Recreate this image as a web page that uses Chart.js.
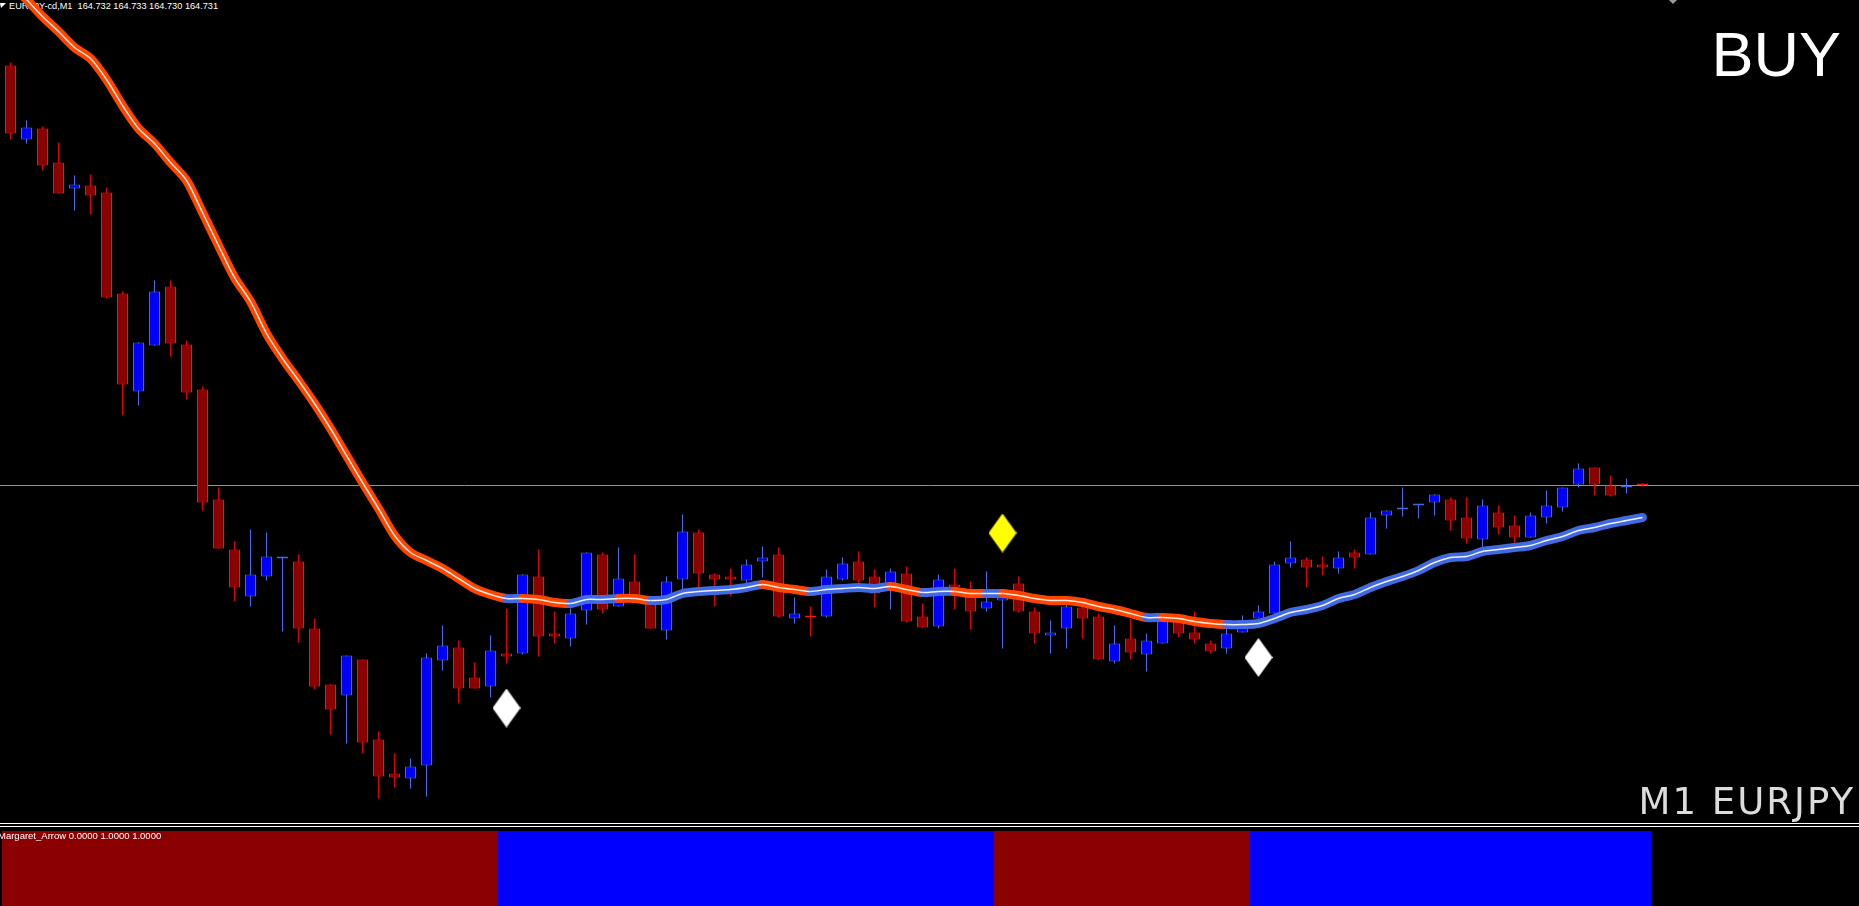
<!DOCTYPE html>
<html>
<head>
<meta charset="utf-8">
<script src="https://cdn.jsdelivr.net/npm/chart.js@4.4.0/dist/chart.umd.min.js"></script>
<style>
  html, body { margin: 0; padding: 0; background: #000; overflow: hidden; }
  #wrap { position: relative; width: 1859px; height: 906px; background: #000; }
  #main { position: absolute; left: 0; top: 0; }
  #sub { position: absolute; left: 0; top: 831px; }
  .sep { position: absolute; left: 0; width: 1859px; height: 1px; background: #fff; }
  .lbl { position: absolute; white-space: nowrap; color: #fff; }
</style>
</head>
<body>
<div id="wrap">
  <svg style="position:absolute;left:0;top:3px" width="7" height="6"><polygon points="0,0 6,0 1,5" fill="#fff"/></svg>
  <div class="lbl" style="left:9px;top:0;font:9.2px/12px 'Liberation Sans',Arial,sans-serif;">EURJPY-cd,M1&nbsp;&nbsp;164.732 164.733 164.730 164.731</div>
  <svg style="position:absolute;left:1669px;top:0" width="9" height="5"><polygon points="0,0 8,0 4,4" fill="#9a9a9a"/></svg>
  <canvas id="main" width="1859" height="823"></canvas>
  <div class="lbl" style="right:18px;top:22.5px;font:63px/63px 'Liberation Sans',Arial,sans-serif;">BUY</div>
  <div class="lbl" style="right:4px;top:783px;font:37px/37px 'DejaVu Sans',sans-serif;letter-spacing:2px;color:#dcdcdc;">M1 EURJPY</div>
  <div class="sep" style="top:823px"></div>
  <div class="sep" style="top:826px"></div>
  <canvas id="sub" width="1859" height="75"></canvas>
  <div class="lbl" style="left:-2px;top:830px;font:9.5px/12px 'Liberation Sans',Arial,sans-serif;">Margaret_Arrow 0.0000 1.0000 1.0000</div>
</div>
<script>
// EURJPY M1 candles, oldest first
const opens = [
  165.151, 165.077, 165.088, 165.054, 165.028, 165.031, 165.024, 164.923, 164.825, 164.871,
  164.930, 164.872, 164.827, 164.717, 164.667, 164.620, 164.640, 164.658, 164.655, 164.588,
  164.532, 164.521, 164.557, 164.477, 164.443, 164.438, 164.451, 164.556, 164.569, 164.539,
  164.530, 164.563, 164.563, 164.640, 164.583, 164.578, 164.606, 164.662, 164.610, 164.635,
  164.617, 164.586, 164.637, 164.684, 164.642, 164.640, 164.636, 164.655, 164.662, 164.598,
  164.601, 164.600, 164.637, 164.655, 164.640, 164.633, 164.643, 164.600, 164.590, 164.632,
  164.623, 164.608, 164.616, 164.633, 164.605, 164.581, 164.588, 164.609, 164.600, 164.555,
  164.578, 164.562, 164.573, 164.599, 164.584, 164.573, 164.568, 164.584, 164.598, 164.603,
  164.653, 164.657, 164.652, 164.648, 164.664, 164.662, 164.701, 164.707, 164.711, 164.714,
  164.717, 164.699, 164.677, 164.704, 164.691, 164.679, 164.699, 164.709, 164.732, 164.749,
  164.731, 164.729, 164.732
];
const highs = [
  165.154, 165.096, 165.090, 165.074, 165.041, 165.042, 165.029, 164.925, 164.874, 164.936,
  164.936, 164.876, 164.830, 164.729, 164.675, 164.687, 164.684, 164.660, 164.662, 164.598,
  164.532, 164.561, 164.557, 164.485, 164.463, 164.458, 164.563, 164.591, 164.576, 164.554,
  164.581, 164.608, 164.642, 164.667, 164.605, 164.608, 164.664, 164.664, 164.669, 164.662,
  164.619, 164.640, 164.702, 164.687, 164.643, 164.648, 164.657, 164.670, 164.669, 164.619,
  164.610, 164.647, 164.659, 164.665, 164.647, 164.648, 164.650, 164.613, 164.642, 164.648,
  164.635, 164.645, 164.624, 164.640, 164.609, 164.596, 164.613, 164.616, 164.603, 164.591,
  164.598, 164.583, 164.600, 164.603, 164.605, 164.576, 164.593, 164.601, 164.611, 164.655,
  164.675, 164.659, 164.660, 164.665, 164.667, 164.704, 164.706, 164.729, 164.712, 164.722,
  164.719, 164.719, 164.717, 164.711, 164.701, 164.704, 164.726, 164.729, 164.753, 164.749,
  164.741, 164.738, 164.733
];
const lows = [
  165.077, 165.073, 165.046, 165.023, 165.006, 165.002, 164.918, 164.801, 164.811, 164.871,
  164.860, 164.817, 164.706, 164.668, 164.615, 164.610, 164.636, 164.585, 164.574, 164.527,
  164.482, 164.473, 164.463, 164.418, 164.429, 164.428, 164.420, 164.546, 164.513, 164.528,
  164.519, 164.553, 164.562, 164.560, 164.573, 164.570, 164.592, 164.603, 164.610, 164.618,
  164.588, 164.577, 164.627, 164.629, 164.610, 164.620, 164.633, 164.639, 164.599, 164.593,
  164.580, 164.599, 164.636, 164.633, 164.609, 164.607, 164.594, 164.589, 164.588, 164.607,
  164.587, 164.605, 164.568, 164.604, 164.573, 164.563, 164.568, 164.578, 164.557, 164.553,
  164.557, 164.545, 164.573, 164.579, 164.573, 164.563, 164.563, 164.584, 164.598, 164.603,
  164.649, 164.629, 164.641, 164.643, 164.648, 164.662, 164.688, 164.700, 164.698, 164.701,
  164.686, 164.673, 164.669, 164.682, 164.672, 164.679, 164.693, 164.705, 164.729, 164.721,
  164.720, 164.723, 164.730
];
const closes = [
  165.083, 165.089, 165.051, 165.023, 165.032, 165.021, 164.919, 164.832, 164.874, 164.925,
  164.873, 164.824, 164.714, 164.668, 164.629, 164.642, 164.660, 164.660, 164.588, 164.530,
  164.507, 164.561, 164.474, 164.440, 164.439, 164.450, 164.559, 164.571, 164.528, 164.528,
  164.566, 164.560, 164.642, 164.580, 164.580, 164.603, 164.664, 164.607, 164.638, 164.619,
  164.588, 164.635, 164.685, 164.643, 164.637, 164.637, 164.652, 164.659, 164.600, 164.603,
  164.599, 164.640, 164.653, 164.636, 164.623, 164.645, 164.595, 164.589, 164.637, 164.629,
  164.605, 164.615, 164.619, 164.605, 164.583, 164.584, 164.610, 164.598, 164.557, 164.573,
  164.564, 164.576, 164.596, 164.583, 164.577, 164.565, 164.583, 164.591, 164.605, 164.652,
  164.659, 164.649, 164.649, 164.659, 164.659, 164.699, 164.706, 164.709, 164.712, 164.722,
  164.696, 164.678, 164.711, 164.689, 164.679, 164.701, 164.711, 164.729, 164.748, 164.732,
  164.721, 164.730, 164.731
];

// moving average and its colour state (1 = up/blue, 0 = down/orange), per bar
const maValues = [
  165.233, 165.217, 165.200, 165.185, 165.169, 165.158, 165.137, 165.111, 165.088, 165.073,
  165.054, 165.036, 165.004, 164.971, 164.939, 164.915, 164.883, 164.858, 164.836, 164.813,
  164.788, 164.761, 164.734, 164.708, 164.681, 164.664, 164.656, 164.648, 164.638, 164.628,
  164.622, 164.618, 164.618, 164.617, 164.614, 164.613, 164.617, 164.617, 164.618, 164.618,
  164.616, 164.617, 164.623, 164.625, 164.626, 164.627, 164.629, 164.632, 164.629, 164.627,
  164.625, 164.627, 164.628, 164.629, 164.628, 164.630, 164.627, 164.624, 164.625, 164.625,
  164.623, 164.623, 164.623, 164.621, 164.618, 164.616, 164.616, 164.614, 164.610, 164.607,
  164.603, 164.599, 164.599, 164.598, 164.595, 164.593, 164.592, 164.592, 164.593, 164.598,
  164.604, 164.607, 164.611, 164.618, 164.622, 164.629, 164.635, 164.640, 164.646, 164.654,
  164.659, 164.660, 164.665, 164.667, 164.669, 164.671, 164.676, 164.680, 164.686, 164.689,
  164.693, 164.696, 164.699
];
const maTrend = [
  0, 0, 0, 0, 0, 0, 0, 0, 0, 0,
  0, 0, 0, 0, 0, 0, 0, 0, 0, 0,
  0, 0, 0, 0, 0, 0, 0, 0, 0, 0,
  0, 1, 0, 0, 0, 1, 1, 1, 0, 0,
  1, 1, 1, 1, 1, 1, 1, 0, 0, 0,
  1, 1, 1, 1, 1, 0, 0, 1, 1, 0,
  0, 1, 0, 0, 0, 0, 0, 0, 0, 0,
  0, 1, 0, 0, 0, 0, 1, 1, 1, 1,
  1, 1, 1, 1, 1, 1, 1, 1, 1, 1,
  1, 1, 1, 1, 1, 1, 1, 1, 1, 1,
  1, 1, 1
];

// Margaret_Arrow state per bar (1 = buy, 0 = sell)
const arrowSignal = [
  0, 0, 0, 0, 0, 0, 0, 0, 0, 0,
  0, 0, 0, 0, 0, 0, 0, 0, 0, 0,
  0, 0, 0, 0, 0, 0, 0, 0, 0, 0,
  0, 1, 1, 1, 1, 1, 1, 1, 1, 1,
  1, 1, 1, 1, 1, 1, 1, 1, 1, 1,
  1, 1, 1, 1, 1, 1, 1, 1, 1, 1,
  1, 1, 0, 0, 0, 0, 0, 0, 0, 0,
  0, 0, 0, 0, 0, 0, 0, 0, 1, 1,
  1, 1, 1, 1, 1, 1, 1, 1, 1, 1,
  1, 1, 1, 1, 1, 1, 1, 1, 1, 1,
  1, 1, 1
];

const buyArrowBars = [31, 78];
const buyArrowPrices = [164.5085, 164.559];
const sellArrowBars = [62];
const sellArrowPrices = [164.6835];

const bidPrice = 164.731;

const xMin = -0.65625;
const xMax = 115.53125;

function diamond(color, w, h) {
  const c = document.createElement('canvas');
  c.width = w;
  c.height = h;
  const g = c.getContext('2d');
  g.beginPath();
  g.moveTo(w / 2, 0);
  g.lineTo(w, h / 2);
  g.lineTo(w / 2, h);
  g.lineTo(0, h / 2);
  g.closePath();
  g.fillStyle = color;
  g.fill();
  return c;
}

const isBull = opens.map((o, i) => closes[i] >= o);
const orange = '#ff4500';
const blue = '#4169e1';

new Chart(document.getElementById('main'), {
  type: 'bar',
  data: {
    datasets: [
      {
        type: 'line',
        data: [{ x: -1, y: bidPrice }, { x: 120, y: bidPrice }],
        borderColor: '#8a939e',
        borderWidth: 1,
        pointRadius: 0,
        order: 10
      },
      {
        data: opens.map((o, i) => ({ x: i, y: [lows[i], highs[i]] })),
        backgroundColor: isBull.map(b => b ? '#4a6cf0' : '#e00000'),
        barThickness: 1,
        inflateAmount: 0,
        grouped: false,
        order: 8
      },
      {
        data: opens.map((o, i) => ({ x: i, y: [o, closes[i]] })),
        backgroundColor: isBull.map(b => b ? '#0000ff' : '#8b0000'),
        borderColor: isBull.map(b => b ? '#4169e1' : '#ff1010'),
        borderWidth: 1,
        borderSkipped: false,
        barThickness: 11,
        minBarLength: 2,
        inflateAmount: 0,
        grouped: false,
        order: 6
      },
      {
        type: 'line',
        data: maValues.map((v, i) => ({ x: i, y: v })),
        borderColor: orange,
        borderWidth: 9,
        borderCapStyle: 'round',
        borderJoinStyle: 'round',
        tension: 0.3,
        pointRadius: 0,
        segment: {
          borderColor: ctx => maTrend[ctx.p0DataIndex] ? blue : orange
        },
        order: 4
      },
      {
        type: 'line',
        data: maValues.map((v, i) => ({ x: i, y: v })),
        borderColor: '#ffe8d8',
        borderWidth: 1.5,
        tension: 0.3,
        pointRadius: 0,
        segment: {
          borderColor: ctx => maTrend[ctx.p0DataIndex] ? '#eef2ff' : '#ffe8d8'
        },
        order: 3
      },
      {
        type: 'line',
        showLine: false,
        data: buyArrowBars.map((b, i) => ({ x: b, y: buyArrowPrices[i] })),
        pointStyle: diamond('#ffffff', 28, 39),
        order: 1
      },
      {
        type: 'line',
        showLine: false,
        data: sellArrowBars.map((b, i) => ({ x: b, y: sellArrowPrices[i] })),
        pointStyle: diamond('#ffff00', 28, 39),
        order: 1
      }
    ]
  },
  options: {
    responsive: false,
    animation: false,
    devicePixelRatio: 1,
    events: [],
    layout: { padding: 0, autoPadding: false },
    plugins: { legend: { display: false }, tooltip: { enabled: false } },
    scales: {
      x: { type: 'linear', display: false, min: xMin, max: xMax, offset: false },
      y: { display: false, min: 164.3935, max: 165.2165 }
    }
  }
});

new Chart(document.getElementById('sub'), {
  type: 'bar',
  data: {
    datasets: [{
      data: arrowSignal.map((s, i) => ({ x: i, y: 1 })),
      backgroundColor: arrowSignal.map(s => s ? '#0000ff' : '#8b0000'),
      barThickness: 16,
      inflateAmount: 0.5,
      grouped: false
    }]
  },
  options: {
    responsive: false,
    animation: false,
    devicePixelRatio: 1,
    events: [],
    layout: { padding: 0, autoPadding: false },
    plugins: { legend: { display: false }, tooltip: { enabled: false } },
    scales: {
      x: { type: 'linear', display: false, min: xMin, max: xMax, offset: false },
      y: { display: false, min: 0, max: 1 }
    }
  }
});
</script>
</body>
</html>
